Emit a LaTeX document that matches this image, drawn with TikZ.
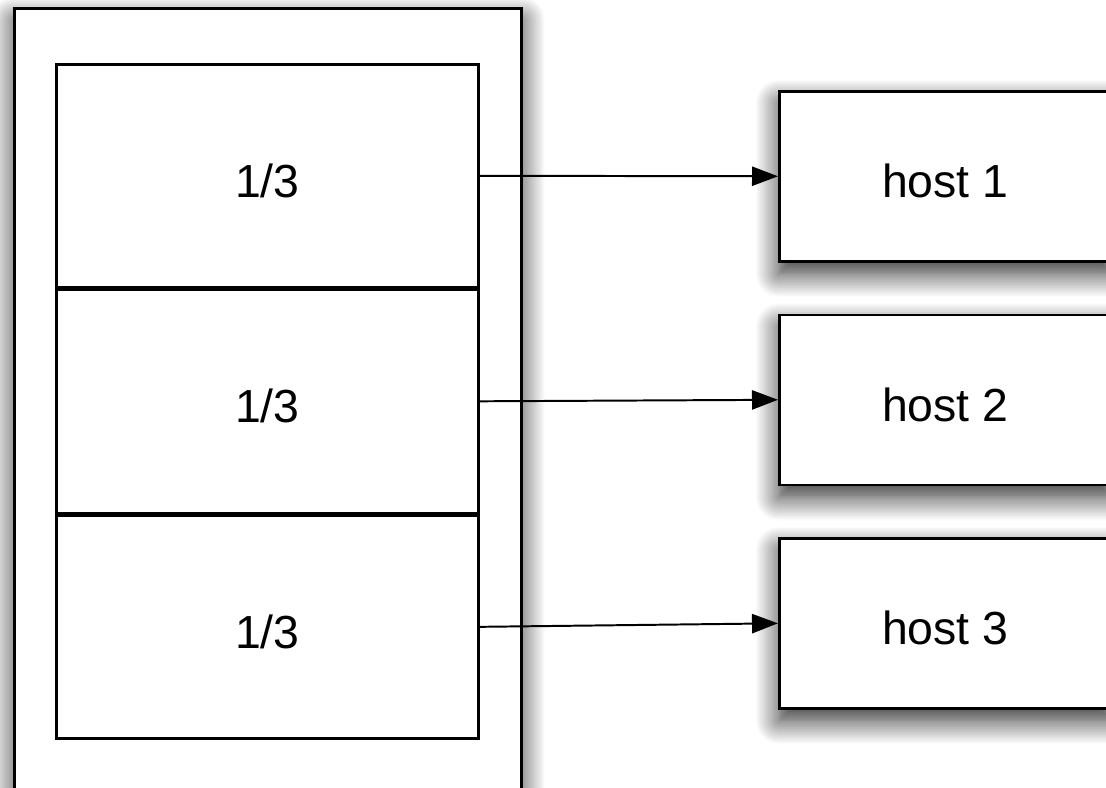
\documentclass[tikz,border=0pt]{standalone}
\usepackage{fontspec}
\setmainfont{Liberation Sans}
\usetikzlibrary{arrows.meta,positioning,shadows.blur}
\tikzset{pin/.style={line width=1.4pt, -{Triangle[length=6.5mm,width=4.8mm]}},
  soft/.style={blur shadow={shadow xshift=0pt, shadow yshift=-3mm, shadow blur radius=6mm, shadow blur steps=16, shadow opacity=85}},
  part/.style={draw, line width=1.8pt, minimum width=105.5mm, minimum height=55.75mm, inner sep=0pt, text height=30.6pt, text depth=0pt},
  host/.style={draw, line width=1.8pt, fill=white, soft, minimum width=83mm, minimum height=42.5mm, inner sep=0pt, text height=30.6pt, text depth=0pt}}

\begin{document}
\begin{tikzpicture}[font=\fontsize{33}{40}\selectfont, node distance=0mm]
  \useasboundingbox (0,0) rectangle (27.65,-19.675);
  \clip (0,0) rectangle (27.65,-19.675);
  % the frame runs on past the lower edge
  \node[draw, line width=1.8pt, fill=white, soft, minimum width=126.75mm, minimum height=205mm, anchor=north west] (frame) at (0.325,-0.175) {};
  \node[part, anchor=north west] (p1) at (1.375,-1.575) {1/3};
  \node[part, below=of p1] (p2) {1/3};
  \node[part, below=of p2] (p3) {1/3};
  \node[host, anchor=north west] (h1) at (19.45,-2.25) {host 1};
  \node[host, below=12.75mm of h1] (h2) {host 2};
  \node[host, below=12.75mm of h2] (h3) {host 3};
  \foreach \a/\b in {p1/h1, p2/h2, p3/h3}{\draw[pin] (\a.east) -- (\b.west);}
\end{tikzpicture}
\end{document}
